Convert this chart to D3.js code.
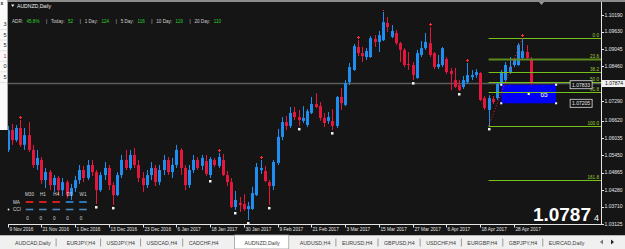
<!DOCTYPE html>
<html>
<head>
<meta charset="utf-8">
<script src="https://cdn.jsdelivr.net/npm/d3@7"></script>
<style>
html, body { margin: 0; padding: 0; background: #151515; overflow: hidden; }
svg { display: block; font-family: "Liberation Sans", Arial, sans-serif; }
</style>
</head>
<body>
<svg id="chart" width="625" height="249"></svg>
<script>
// ---- data ----
const tickLabels = ["9 Nov 2016","21 Nov 2016","1 Dec 2016","13 Dec 2016","23 Dec 2016","6 Jan 2017","18 Jan 2017","30 Jan 2017","9 Feb 2017","21 Feb 2017","3 Mar 2017","15 Mar 2017","27 Mar 2017","6 Apr 2017","18 Apr 2017","28 Apr 2017"];
const tickBars = [0,8,16,24,32,40,48,56,64,72,80,88,96,104,112,120];

const priceTicks = ["1.10190","1.09630","1.09045","1.08460","1.07875","1.07290","1.06620","1.06035","1.05450","1.04865","1.04280","1.03710","1.03125"];

const open = [1.0563,1.0630,1.0596,1.0637,1.0580,1.0613,1.0563,1.0512,1.0529,1.0461,
1.0488,1.0444,1.0468,1.0427,1.0454,1.0410,1.0434,1.0461,1.0495,1.0468,
1.0512,1.0488,1.0427,1.0478,1.0502,1.0444,1.0410,1.0478,1.0529,1.0502,
1.0546,1.0512,1.0468,1.0444,1.0478,1.0502,1.0454,1.0495,1.0529,1.0488,
1.0512,1.0563,1.0502,1.0444,1.0495,1.0529,1.0509,1.0525,1.0478,1.0529,
1.0509,1.0529,1.0478,1.0454,1.0370,1.0384,1.0380,1.0363,1.0363,1.0410,
1.0495,1.0492,1.0454,1.0441,1.0519,1.0607,1.0657,1.0644,1.0691,1.0674,
1.0661,1.0647,1.0688,1.0718,1.0711,1.0671,1.0661,1.0661,1.0644,1.0742,
1.0715,1.0792,1.0833,1.0911,1.0890,1.0877,1.0877,1.0938,1.0928,1.0934,
1.0992,1.0945,1.0958,1.0924,1.0901,1.0853,1.0850,1.0806,1.0884,1.0907,
1.0924,1.0890,1.0843,1.0850,1.0870,1.0830,1.0799,1.0782,1.0776,1.0792,
1.0809,1.0816,1.0823,1.0738,1.0698,1.0735,1.0738,1.0786,1.0799,1.0826,
1.0850,1.0850,1.0874,1.0894,1.0870];
const high = [1.0644,1.0651,1.0647,1.0664,1.0637,1.0657,1.0580,1.0563,1.0539,1.0502,
1.0495,1.0478,1.0475,1.0468,1.0461,1.0448,1.0475,1.0512,1.0509,1.0529,
1.0529,1.0495,1.0488,1.0522,1.0512,1.0454,1.0488,1.0546,1.0563,1.0563,
1.0569,1.0529,1.0488,1.0495,1.0522,1.0512,1.0512,1.0546,1.0539,1.0536,
1.0580,1.0569,1.0512,1.0512,1.0546,1.0539,1.0546,1.0546,1.0539,1.0536,
1.0553,1.0549,1.0492,1.0468,1.0424,1.0404,1.0414,1.0387,1.0438,1.0519,
1.0529,1.0509,1.0461,1.0529,1.0634,1.0674,1.0678,1.0708,1.0708,1.0698,
1.0711,1.0701,1.0742,1.0755,1.0725,1.0688,1.0691,1.0701,1.0745,1.0772,
1.0799,1.0857,1.0921,1.0934,1.0911,1.0907,1.0948,1.0951,1.0965,1.1029,
1.1012,1.0985,1.0968,1.0928,1.0907,1.0894,1.0860,1.0901,1.0931,1.0958,
1.0978,1.0894,1.0884,1.0911,1.0877,1.0840,1.0840,1.0799,1.0813,1.0857,
1.0833,1.0836,1.0826,1.0745,1.0748,1.0745,1.0792,1.0833,1.0860,1.0877,
1.0874,1.0924,1.0941,1.0917,1.0877];
const low = [1.0556,1.0580,1.0590,1.0573,1.0563,1.0556,1.0502,1.0495,1.0448,1.0434,
1.0427,1.0421,1.0410,1.0407,1.0400,1.0394,1.0421,1.0448,1.0454,1.0461,
1.0475,1.0380,1.0421,1.0461,1.0427,1.0377,1.0407,1.0468,1.0495,1.0495,
1.0502,1.0454,1.0421,1.0434,1.0461,1.0441,1.0444,1.0478,1.0478,1.0468,
1.0502,1.0478,1.0427,1.0434,1.0485,1.0495,1.0495,1.0475,1.0468,1.0505,
1.0502,1.0475,1.0441,1.0366,1.0360,1.0353,1.0356,1.0326,1.0360,1.0407,
1.0482,1.0454,1.0377,1.0427,1.0512,1.0596,1.0630,1.0637,1.0664,1.0644,
1.0654,1.0640,1.0684,1.0705,1.0661,1.0640,1.0651,1.0630,1.0637,1.0698,
1.0711,1.0782,1.0830,1.0880,1.0860,1.0867,1.0874,1.0911,1.0894,1.0931,
1.0961,1.0941,1.0917,1.0860,1.0843,1.0833,1.0799,1.0803,1.0877,1.0901,
1.0877,1.0836,1.0836,1.0843,1.0820,1.0765,1.0772,1.0762,1.0769,1.0786,
1.0799,1.0806,1.0728,1.0698,1.0644,1.0718,1.0732,1.0779,1.0792,1.0820,
1.0843,1.0847,1.0867,1.0867,1.0779];
const close = [1.0630,1.0596,1.0637,1.0580,1.0613,1.0563,1.0512,1.0536,1.0461,1.0488,
1.0444,1.0468,1.0427,1.0454,1.0410,1.0434,1.0461,1.0495,1.0468,1.0512,
1.0488,1.0427,1.0478,1.0502,1.0444,1.0410,1.0478,1.0529,1.0502,1.0546,
1.0512,1.0468,1.0444,1.0478,1.0502,1.0454,1.0495,1.0529,1.0488,1.0512,
1.0563,1.0502,1.0444,1.0495,1.0529,1.0502,1.0536,1.0482,1.0532,1.0512,
1.0539,1.0478,1.0454,1.0370,1.0394,1.0377,1.0363,1.0373,1.0417,1.0505,
1.0502,1.0458,1.0441,1.0522,1.0607,1.0657,1.0644,1.0688,1.0674,1.0664,
1.0671,1.0694,1.0718,1.0708,1.0671,1.0654,1.0674,1.0644,1.0742,1.0721,
1.0789,1.0843,1.0914,1.0890,1.0880,1.0897,1.0941,1.0928,1.0951,1.0995,
1.0978,1.0965,1.0924,1.0901,1.0850,1.0850,1.0816,1.0890,1.0907,1.0928,
1.0884,1.0843,1.0853,1.0907,1.0826,1.0820,1.0776,1.0765,1.0799,1.0816,
1.0816,1.0826,1.0732,1.0705,1.0738,1.0725,1.0786,1.0826,1.0850,1.0843,
1.0867,1.0917,1.0897,1.0874,1.0787];

const downFractals = [21,25,48,54,57,62,69,77,96,107,114];
const upFractals = [3,50,60,83,89,100,109,122];

const bid = 1.07874;
const bidBig = "1.0787", bidLast = "4";

const fibLevels = [0, 23.6, 38.2, 50, 61.8, 100, 161.8];
const fibLabels = ["0.0","23.6","38.2","50.0","61.8","100.0","161.8"];
const fibLowBar = 114, fibHighBar = 122;
const fibLow = 1.0644, fibHigh = 1.0941;

const boxBars = [117, 130];
const boxPrices = [1.07833, 1.07205];
const boxText = "65";

const adrLabels = ["ADR:","Today:","1 Day:","5 Day:","10 Day:","20 Day:"];
const adrValues = ["45.8%","52","124","116","119","110"];

const frames = ["M30","H1","H4","D1","W1"];
const maColors = ["#ff2020","#ff2020","#ff2020","#2f8fe8","#2f8fe8"];
const cciValues = [0,0,0,0,0];

const tabs = ["AUDCAD,Daily","EURJPY,H4","USDJPY,H4","USDCAD,H4","CADCHF,H4","AUDNZD,Daily","AUDUSD,H4","EURUSD,H4","GBPUSD,H4","USDCHF,H4","EURGBP,H4","GBPJPY,H4","EURCAD,Daily"];
const activeTab = 5;

// market watch column, only the last digits show
const watchDigits = ["3","5","5","1","0","5"];

// ---- layout ----
const W = 625, H = 249;
const pL = 8, pR = 601, pT = 10, pB = 224;

const x = d3.scaleLinear().domain([0, 124]).range([7.5, 530.8]);
const y = d3.scaleLinear().domain([1.03125, 1.10190]).range([224, 15]);

const svg = d3.select("#chart");

svg.append("rect").attr("width", W).attr("height", H).attr("fill", "#151515");
svg.append("rect").attr("width", W).attr("height", 2).attr("fill", "#8c8c8c");

svg.append("defs").append("clipPath").attr("id", "plot")
  .append("rect").attr("x", pL).attr("y", pT).attr("width", pR - pL).attr("height", pB - pT);

const plot = svg.append("g").attr("clip-path", "url(#plot)");

// bid line
plot.append("line")
  .attr("x1", pL).attr("x2", pR)
  .attr("y1", Math.round(y(bid)) - 0.5).attr("y2", Math.round(y(bid)) - 0.5)
  .attr("stroke", "#5c5c5c").attr("stroke-width", 1.5);

// candles
const bars = d3.range(open.length);
const candle = plot.append("g").selectAll("g")
  .data(bars)
  .enter().append("g");

const col = i => close[i] >= open[i] ? "#1e8ff0" : "#e3173d";

candle.append("line")
  .attr("x1", i => Math.round(x(i)) + 0.5)
  .attr("x2", i => Math.round(x(i)) + 0.5)
  .attr("y1", i => y(Math.max(high[i], open[i], close[i])))
  .attr("y2", i => y(Math.min(low[i], open[i], close[i])))
  .attr("stroke", col);

candle.append("rect")
  .attr("x", i => Math.round(x(i)) - 1)
  .attr("width", 3)
  .attr("y", i => y(Math.max(open[i], close[i])))
  .attr("height", i => Math.max(1, Math.abs(y(open[i]) - y(close[i]))))
  .attr("fill", col);

// fractals
plot.append("g").selectAll("rect")
  .data(downFractals)
  .enter().append("rect")
  .attr("x", i => Math.round(x(i)) - 1)
  .attr("y", i => y(low[i]) + 2)
  .attr("width", 2.5).attr("height", 2.5)
  .attr("fill", "#f4f4f4");

const up = plot.append("g").attr("stroke", "#ff2a2a").attr("stroke-width", 1);
up.selectAll("path")
  .data(upFractals)
  .enter().append("path")
  .attr("d", i => {
    const cx = Math.round(x(i)) + 0.5, cy = Math.round(y(high[i])) - 2.5;
    return `M${cx - 1.5},${cy}H${cx + 1.5}M${cx},${cy - 1.5}V${cy + 1.5}`;
  });

// box
const bx0 = x(boxBars[0]), bx1 = x(boxBars[1]);
const by0 = y(boxPrices[0]), by1 = y(boxPrices[1]);
plot.append("rect")
  .attr("x", bx0).attr("y", by0)
  .attr("width", bx1 - bx0).attr("height", by1 - by0)
  .attr("fill", "#0000f8");
plot.append("text")
  .attr("x", bx0 + (bx1 - bx0) * 0.78).attr("y", (by0 + by1) / 2 + 2.5)
  .attr("fill", "#fff").attr("font-size", 6.5).attr("text-anchor", "middle")
  .text(boxText);

// fibo
const fibPrice = lv => fibHigh - lv / 100 * (fibHigh - fibLow);
const fib = plot.append("g");
fib.selectAll("line")
  .data(fibLevels)
  .enter().append("line")
  .attr("x1", x(fibLowBar)).attr("x2", pR)
  .attr("y1", d => Math.round(y(fibPrice(d))) + 0.5)
  .attr("y2", d => Math.round(y(fibPrice(d))) + 0.5)
  .attr("stroke", d => d === 23.6 ? "#5f8a1e" : "#74c21a")
  .attr("stroke-width", d => d === 23.6 ? 2 : 1);
fib.selectAll("text")
  .data(fibLevels)
  .enter().append("text")
  .attr("x", pR - 2)
  .attr("y", d => Math.round(y(fibPrice(d))) - 1)
  .attr("text-anchor", "end")
  .attr("font-size", 4.6)
  .attr("fill", "#9acd32")
  .text((d, i) => fibLabels[i]);

plot.append("line")
  .attr("x1", x(fibLowBar)).attr("y1", y(fibLow))
  .attr("x2", x(fibHighBar)).attr("y2", y(fibHigh))
  .attr("stroke", "#ff1a1a").attr("stroke-dasharray", "1,2");

// box handles
const handles = [[bx0, by0], [bx1, by0], [bx0, by1], [bx1, by1], [(bx0 + bx1) / 2, (by0 + by1) / 2]];
plot.append("g").selectAll("rect")
  .data(handles)
  .enter().append("rect")
  .attr("x", d => d[0] - 1).attr("y", d => d[1] - 1)
  .attr("width", 2).attr("height", 2)
  .attr("fill", "#fff");

// boxed price labels
boxPrices.forEach(p => {
  const g = svg.append("g").attr("transform", `translate(${bx1 + 14},${y(p)})`);
  g.append("rect").attr("x", 0).attr("y", -4).attr("width", 22).attr("height", 8)
    .attr("fill", "#151515").attr("stroke", "#e0e0e0").attr("stroke-width", 0.8);
  g.append("text").attr("x", 11).attr("y", 2).attr("text-anchor", "middle")
    .attr("font-size", 5).attr("fill", "#e8e8e8").text(p.toFixed(5));
});

// axes frame
svg.append("line").attr("x1", pR + 0.5).attr("x2", pR + 0.5).attr("y1", 2).attr("y2", pB)
  .attr("stroke", "#e6e6e6");
svg.append("line").attr("x1", pL).attr("x2", pR + 1).attr("y1", pB + 0.5).attr("y2", pB + 0.5)
  .attr("stroke", "#e6e6e6");

// price axis
const pAxis = svg.append("g");
pAxis.selectAll("line")
  .data(priceTicks)
  .enter().append("line")
  .attr("x1", pR).attr("x2", pR + 3)
  .attr("y1", d => Math.round(y(+d)) + 0.5).attr("y2", d => Math.round(y(+d)) + 0.5)
  .attr("stroke", "#e6e6e6");
pAxis.selectAll("text")
  .data(priceTicks)
  .enter().append("text")
  .attr("x", pR + 3.5).attr("y", d => y(+d) + 1.8)
  .attr("font-size", 5).attr("fill", "#e6e6e6")
  .text(d => d);

// bid label
const bl = svg.append("g").attr("transform", `translate(${pR + 1},${y(bid)})`);
bl.append("rect").attr("x", 0).attr("y", -3.5).attr("width", 24).attr("height", 7).attr("fill", "#f2f2f2");
bl.append("text").attr("x", 3).attr("y", 1.8).attr("font-size", 5).attr("fill", "#111")
  .text(bid.toFixed(5));

// time axis
const tAxis = svg.append("g");
tAxis.selectAll("line")
  .data(tickBars)
  .enter().append("line")
  .attr("x1", d => Math.round(x(d)) + 0.5).attr("x2", d => Math.round(x(d)) + 0.5)
  .attr("y1", pB).attr("y2", pB + 3.5)
  .attr("stroke", "#e6e6e6");
tAxis.selectAll("text")
  .data(tickBars)
  .enter().append("text")
  .attr("x", d => Math.round(x(d)) + 1.5).attr("y", pB + 7)
  .attr("font-size", 4.7).attr("fill", "#e6e6e6")
  .text((d, i) => tickLabels[i]);

// title
svg.append("path").attr("d", "M11,4.5H14.5L12.75,7Z").attr("fill", "#eee");
svg.append("text").attr("x", 17).attr("y", 7.8).attr("font-size", 5.1).attr("fill", "#eee")
  .text("AUDNZD,Daily");

// ADR line
const info = svg.append("g").attr("font-size", 4.6);
let cx = 12;
adrLabels.forEach((lab, i) => {
  const t1 = info.append("text").attr("x", cx).attr("y", 22.5).attr("fill", "#d0d0d0").text(lab);
  cx += t1.node().getComputedTextLength() + 3.5;
  const t2 = info.append("text").attr("x", cx).attr("y", 22.5).attr("fill", "#2fd12f").text(adrValues[i]);
  cx += t2.node().getComputedTextLength() + 6.5;
  if (i < adrLabels.length - 1) {
    info.append("text").attr("x", cx).attr("y", 22.5).attr("fill", "#d0d0d0").text("|");
    cx += 5;
  }
});

// MA / CCI legend
const leg = svg.append("g").attr("font-size", 4.6).attr("fill", "#d8d8d8");
const fx = d3.scalePoint().domain(frames).range([29.5, 83]);
leg.selectAll(".tf")
  .data(frames).enter().append("text")
  .attr("x", d => fx(d)).attr("y", 196).attr("text-anchor", "middle").text(d => d);
leg.append("text").attr("x", 13).attr("y", 203.5).text("MA");
leg.append("text").attr("x", 13).attr("y", 211).text("CCI");
leg.append("circle").attr("cx", 8.5).attr("cy", 209.5).attr("r", 0.9).attr("fill", "#eee");
leg.selectAll(".ma")
  .data(frames).enter().append("line")
  .attr("x1", d => fx(d) - 3.8).attr("x2", d => fx(d) + 3.8)
  .attr("y1", 202).attr("y2", 202)
  .attr("stroke", (d, i) => maColors[i]).attr("stroke-width", 1.6);
leg.selectAll(".cci")
  .data(frames).enter().append("line")
  .attr("x1", d => fx(d) - 3.8).attr("x2", d => fx(d) + 3.8)
  .attr("y1", 209.5).attr("y2", 209.5)
  .attr("stroke", "#4d86be").attr("stroke-width", 1.6);
leg.selectAll(".val")
  .data(frames).enter().append("text")
  .attr("x", d => fx(d) - 2).attr("y", 219.5).attr("text-anchor", "middle")
  .text((d, i) => cciValues[i]);

// big bid
svg.append("text").attr("x", 591).attr("y", 221).attr("text-anchor", "end")
  .attr("font-size", 19).attr("font-weight", "bold").attr("fill", "#fff").text(bidBig);
svg.append("text").attr("x", 594).attr("y", 221).attr("font-size", 9).attr("fill", "#fff").text(bidLast);

// shift marker
svg.append("path").attr("d", "M539,2H544L541.5,5Z").attr("fill", "#9a9a9a");

// left panel (market watch edge)
const mw = svg.append("g");
mw.append("rect").attr("x", 0).attr("y", 0).attr("width", 7).attr("height", 130).attr("fill", "#fafafa");
mw.append("line").attr("x1", 7.5).attr("x2", 7.5).attr("y1", 0).attr("y2", 130).attr("stroke", "#a8a8a8");
mw.append("text").attr("x", 0.5).attr("y", 5).attr("font-size", 5).attr("font-weight", "bold")
  .attr("fill", "#222").text("x");
mw.selectAll(".wd")
  .data(watchDigits).enter().append("text")
  .attr("x", 6.5).attr("y", (d, i) => 26 + i * 10.6)
  .attr("text-anchor", "end").attr("font-size", 5.5)
  .attr("fill", (d, i) => i === 3 ? "#c0303a" : "#222")
  .text(d => d);
mw.selectAll(".wl")
  .data(watchDigits).enter().append("line")
  .attr("x1", 0).attr("x2", 7).attr("y1", (d, i) => 29.5 + i * 10.6).attr("y2", (d, i) => 29.5 + i * 10.6)
  .attr("stroke", "#e2e2e2");

// tab bar
const tb = svg.append("g");
tb.append("rect").attr("x", 0).attr("y", 235).attr("width", W).attr("height", 14).attr("fill", "#f0f0f0");
tb.append("line").attr("x1", 0).attr("x2", W).attr("y1", 235.5).attr("y2", 235.5).attr("stroke", "#b8b8b8");
let tx = 15;
tabs.forEach((name, i) => {
  const t = tb.append("text").attr("x", tx).attr("y", 244.5).attr("font-size", 5.3)
    .attr("fill", "#3a3a3a").text(name);
  const w = t.node().getComputedTextLength();
  if (i === activeTab) {
    tb.insert("rect", "text").attr("x", tx - 10).attr("y", 235).attr("width", w + 19).attr("height", 14)
      .attr("fill", "#fff").attr("stroke", "#a0a0a0").attr("stroke-width", 0.8);
  } else if (i !== activeTab - 1 && i < tabs.length - 1) {
    tb.append("line").attr("x1", tx + w + 5.5).attr("x2", tx + w + 5.5).attr("y1", 238.5).attr("y2", 246.5)
      .attr("stroke", "#9a9a9a");
  }
  const gap = i === 0 ? 16 : i === activeTab - 1 ? 26 : i === activeTab ? 20 : 11.5;
  tx += w + gap;
});
tb.append("path").attr("d", "M600,242L603,239.5V244.5Z").attr("fill", "#777");
tb.append("path").attr("d", "M614,242L611,239.5V244.5Z").attr("fill", "#222");
</script>
</body>
</html>
